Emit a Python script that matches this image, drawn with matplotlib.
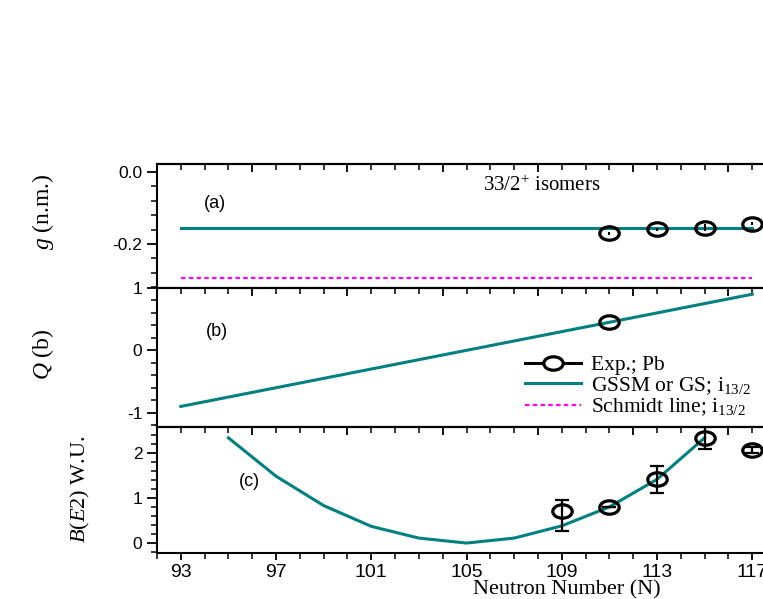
import matplotlib
matplotlib.use("Agg")
import matplotlib.pyplot as plt
from matplotlib.path import Path
from matplotlib.transforms import Affine2D
from matplotlib.ticker import MultipleLocator, FixedLocator

plt.rcParams["mathtext.fontset"] = "custom"
plt.rcParams["mathtext.rm"] = "Liberation Serif"
plt.rcParams["mathtext.it"] = "Liberation Serif:italic"
plt.rcParams["axes.unicode_minus"] = False

# --- data ---
n_a_exp = [111, 113, 115, 117]
g_exp = [-0.170, -0.159, -0.155, -0.144]
g_err = [0.004, 0.004, 0.010, 0.004]
n_line = [93, 117]
g_gssm = [-0.155, -0.155]
g_schmidt = [-0.295, -0.295]

n_b_exp = [111]
q_exp = [0.45]
q_gssm = [-0.90, 0.90]

n_c_theo = [95, 97, 99, 101, 103, 105, 107, 109, 111, 113, 115]
be2_theo = [2.33, 1.48, 0.83, 0.37, 0.11, 0.0, 0.11, 0.38, 0.80, 1.41, 2.33]
n_c_exp = [109, 111, 113, 115, 117]
be2_exp = [0.72, 0.80, 1.41, 2.33, 2.06]
be2_err_lo = [0.46, 0.0, 0.30, 0.24, 0.07]
be2_err_hi = [0.24, 0.0, 0.29, 0.23, 0.07]

xticks = [93, 97, 101, 105, 109, 113, 117]

TEAL = "#008080"
SERIF = "Liberation Serif"
SANS = "Liberation Sans"

# open oval marker (the reference is stretched horizontally)
oval = Path.unit_circle().transformed(Affine2D().scale(1.45, 1.0))
MS = 14

fig = plt.figure(figsize=(7.63, 5.99), dpi=100)
W, H = 763.0, 599.0
x0, x1 = 157.0, 776.0   # pixel position of N=92 and N=118 (right part is cut off)
rows = [(164, 288), (288, 427), (427, 553)]
axes = []
for top, bot in rows:
    ax = fig.add_axes([x0 / W, 1 - bot / H, (x1 - x0) / W, (bot - top) / H])
    ax.set_xlim(92, 118)
    for s in ax.spines.values():
        s.set_linewidth(1.5)
    ax.xaxis.set_major_locator(FixedLocator(xticks))
    ax.xaxis.set_minor_locator(MultipleLocator(1))
    ax.tick_params(axis="x", which="both", bottom=False, top=False, labelbottom=False)
    ax.tick_params(axis="y", which="major", direction="out", length=7, width=1.3,
                   labelsize=12.5)
    ax.tick_params(axis="y", which="minor", direction="out", length=4, width=1.1)
    # top ticks pointing inward
    sec = ax.secondary_xaxis("top")
    sec.xaxis.set_major_locator(MultipleLocator(4))
    sec.xaxis.set_minor_locator(MultipleLocator(1))
    sec.tick_params(which="major", direction="in", length=6, width=1.3, labeltop=False)
    sec.tick_params(which="minor", direction="in", length=4, width=1.1)
    sec.spines["top"].set_linewidth(1.5)
    axes.append(ax)

ax_a, ax_b, ax_c = axes

# ---- panel (a) ----
ax_a.plot(n_line, g_gssm, color=TEAL, lw=2.2, zorder=2)
ax_a.plot(n_line, g_schmidt, color="magenta", lw=1.6, ls=(0, (2, 1.5)), zorder=2)
ax_a.errorbar(n_a_exp, g_exp, yerr=g_err, fmt="none", ecolor="black", elinewidth=1.5,
              capsize=0, zorder=3)
ax_a.plot(n_a_exp, g_exp, ls="none", marker=oval, ms=MS, mfc="none", mec="black",
          mew=2.3, zorder=4)
ax_a.set_ylim(-0.322, 0.022)
ax_a.yaxis.set_major_locator(MultipleLocator(0.2))
ax_a.yaxis.set_minor_locator(MultipleLocator(0.04))
ax_a.yaxis.set_major_formatter(plt.FuncFormatter(lambda v, p: f"{v:.1f}"))
ax_a.text(0.094, 0.68, "(a)", transform=ax_a.transAxes, fontsize=13, fontfamily=SANS,
          ha="center", va="center")
ax_a.text(0.527, 0.82, r"33/2$^{+}$ isomers", transform=ax_a.transAxes, fontsize=15,
          fontfamily=SERIF, ha="left", va="center")

# ---- panel (b) ----
ax_b.plot(n_line, q_gssm, color=TEAL, lw=2.2, zorder=2)
ax_b.plot(n_b_exp, q_exp, ls="none", marker=oval, ms=MS, mfc="none", mec="black",
          mew=2.3, zorder=4)
ax_b.set_ylim(-1.23, 1.0)
ax_b.yaxis.set_major_locator(MultipleLocator(1))
ax_b.yaxis.set_minor_locator(MultipleLocator(0.2))
ax_b.text(0.097, 0.69, "(b)", transform=ax_b.transAxes, fontsize=13, fontfamily=SANS,
          ha="center", va="center")

h_exp, = ax_b.plot([], [], color="black", lw=2.2, marker=oval, ms=MS, mfc="white",
                   mec="black", mew=2.3)
h_gssm, = ax_b.plot([], [], color=TEAL, lw=2.2)
h_sch, = ax_b.plot([], [], color="magenta", lw=1.6, ls=(0, (2, 1.5)))
ax_b.legend([h_exp, h_gssm, h_sch],
            ["Exp.; Pb", r"GSSM or GS; i$_{13/2}$", r"Schmidt line; i$_{13/2}$"],
            loc="upper left", bbox_to_anchor=(0.58, 0.58), frameon=False,
            prop={"family": SERIF, "size": 15.5}, handlelength=2.6, handletextpad=0.5,
            labelspacing=0.0, borderaxespad=0)

# ---- panel (c) ----
ax_c.plot(n_c_theo, be2_theo, color=TEAL, lw=2.2, zorder=2)
ax_c.errorbar(n_c_exp, be2_exp, yerr=[be2_err_lo, be2_err_hi], fmt="none", ecolor="black",
              elinewidth=1.6, capsize=5, capthick=1.6, zorder=3)
ax_c.plot(n_c_exp, be2_exp, ls="none", marker=oval, ms=MS, mfc="none", mec="black",
          mew=2.3, zorder=4)
ax_c.set_ylim(-0.22, 2.57)
ax_c.yaxis.set_major_locator(MultipleLocator(1))
ax_c.yaxis.set_minor_locator(MultipleLocator(0.2))
ax_c.text(0.15, 0.565, "(c)", transform=ax_c.transAxes, fontsize=13, fontfamily=SANS,
          ha="center", va="center")
ax_c.tick_params(axis="x", which="major", bottom=True, labelbottom=True, direction="out",
                 length=5, width=1.3, labelsize=14, pad=3)
ax_c.tick_params(axis="x", which="minor", bottom=True, direction="out", length=4, width=1.1)

for ax in axes:
    for lab in ax.get_xticklabels() + ax.get_yticklabels():
        lab.set_fontfamily(SANS)

# ---- axis titles ----
fig.text(567 / W, 1 - 590 / H, "Neutron Number (N)", fontsize=16, fontfamily=SERIF,
         ha="center", va="center")
fig.text(43 / W, 1 - 212 / H, r"$g$ (n.m.)", fontsize=17, fontfamily=SERIF,
         rotation=90, ha="center", va="center")
fig.text(43 / W, 1 - 354 / H, r"$Q$ (b)", fontsize=17, fontfamily=SERIF,
         rotation=90, ha="center", va="center")
fig.text(80 / W, 1 - 489 / H, r"$B(E2)$ W.U.", fontsize=16, fontfamily=SERIF,
         rotation=90, ha="center", va="center")

plt.savefig("out.png", dpi=100)
